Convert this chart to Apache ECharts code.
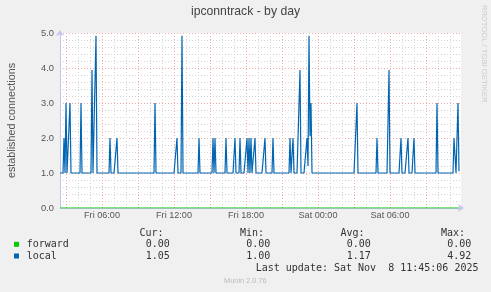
<!DOCTYPE html>
<html>
<head>
<meta charset="utf-8">
<title>ipconntrack - by day</title>
<script src="https://cdn.jsdelivr.net/npm/echarts@6.0.0/dist/echarts.min.js"></script>
<style>
  html, body { margin: 0; padding: 0; background: #f0f0f0; }
  #chart { width: 491px; height: 292px; }
</style>
</head>
<body>
<div id="chart"></div>
<script>
// 5 minute samples, first one at Fri 02:30 (hours counted from Fri 00:00)
var startHour = 2.5;
var stepHour = 5 / 60;

var local = [
  1,1,1,1,2,1,3,1,1,1,3,1,1,1,1,1,1,1,1,1,
  1,3,1,1,1,1,1,1,1,1,1,1,3.94,1,1,1,4.92,1,1,1,
  1,1,1,1,1,1,1,1,1,1,2,1,1,1,1,1,1,2,1,1,
  1,1,1,1,1,1,1,1,1,1,1,1,1,1,1,1,1,1,1,1,
  1,1,1,1,1,1,1,1,1,1,1,1,1,1,1,3,1,1,1,1,
  1,1,1,1,1,1,1,1,1,1,1,1,1,1,1,1,1,2,1,1,
  1,1,4.92,1,1,1,1,1,1,1,1,1,1,1,1,1,1,1,1,2,
  1,1,1,1,1,1,1,1,1,1,1,1,1,2,1,2,1,1,1,1,
  1,1,1,1,1,1,2,1,1,1,1,1,1,1,1,2,1,1,1,1,
  2,1,1,1,1,1,1,2,1,2,1,2,1,1,1,2,1,1,1,1,
  1,1,1,1,1,2,1,1,1,1,1,1,1,2,1,1,1,1,1,1,
  1,1,1,1,1,1,1,1,1,1,2,1,1,2,1,1,1,1,1,1,
  3.94,1,1,1,1,1,1,2,1.2,4.92,2.05,3,1,1,1,1,1,1,1,1,
  1,1,1,1,1,1,1,1,1,1,1,1,1,1,1,1,1,1,1,1,
  1,1,1,1,1,1,1,1,1,1,1,1,1,1,1,1,1,3,1,1,
  1,1,1,1,1,1,1,1,1,1,1,1,1,1,1,1,1,2,1,1,
  1,1,1,1,1,1,1,1,1,3.94,1,1,1,1,1,1,1,1,1,1,
  1,2,1,1,1,1,1,1,2,1,1,1,1,1,2,1,1,1,1,1,
  1,1,1,1,1,1,1,1,1,1,1,1,1,1,1,1,1,3,1,1,
  1,1,1,1,1,1,1,1,1,1,1,1,1,1,2,2,1,1,3,1.05
];

var forward = [
  0,0,0,0,0,0,0,0,0,0,0,0,0,0,0,0,0,0,0,0,0,0,0,0,0,0,0,0,0,0,0,0,0,0,0,0,0,0,0,0,
  0,0,0,0,0,0,0,0,0,0,0,0,0,0,0,0,0,0,0,0,0,0,0,0,0,0,0,0,0,0,0,0,0,0,0,0,0,0,0,0,
  0,0,0,0,0,0,0,0,0,0,0,0,0,0,0,0,0,0,0,0,0,0,0,0,0,0,0,0,0,0,0,0,0,0,0,0,0,0,0,0,
  0,0,0,0,0,0,0,0,0,0,0,0,0,0,0,0,0,0,0,0,0,0,0,0,0,0,0,0,0,0,0,0,0,0,0,0,0,0,0,0,
  0,0,0,0,0,0,0,0,0,0,0,0,0,0,0,0,0,0,0,0,0,0,0,0,0,0,0,0,0,0,0,0,0,0,0,0,0,0,0,0,
  0,0,0,0,0,0,0,0,0,0,0,0,0,0,0,0,0,0,0,0,0,0,0,0,0,0,0,0,0,0,0,0,0,0,0,0,0,0,0,0,
  0,0,0,0,0,0,0,0,0,0,0,0,0,0,0,0,0,0,0,0,0,0,0,0,0,0,0,0,0,0,0,0,0,0,0,0,0,0,0,0,
  0,0,0,0,0,0,0,0,0,0,0,0,0,0,0,0,0,0,0,0,0,0,0,0,0,0,0,0,0,0,0,0,0,0,0,0,0,0,0,0,
  0,0,0,0,0,0,0,0,0,0,0,0,0,0,0,0,0,0,0,0,0,0,0,0,0,0,0,0,0,0,0,0,0,0,0,0,0,0,0,0,
  0,0,0,0,0,0,0,0,0,0,0,0,0,0,0,0,0,0,0,0,0,0,0,0,0,0,0,0,0,0,0,0,0,0,0,0,0,0,0,0
];

var xLabelHours = [6, 12, 18, 24, 30];
var xLabels = ['Fri 06:00', 'Fri 12:00', 'Fri 18:00', 'Sat 00:00', 'Sat 06:00'];

var legendNames = ['forward', 'local'];
var curValues = ['0.00', '1.05'];
var minValues = ['0.00', '1.00'];
var avgValues = ['0.00', '1.17'];
var maxValues = ['0.00', '4.92'];
var lastUpdate = 'Last update: Sat Nov  8 11:45:06 2025';

var colors = ['#00cc00', '#0066b3'];

var xMin = startHour;
var xMax = startHour + 401 * stepHour;

var hourLines = [];
for (var h = 3; h <= 35; h++) hourLines.push(h);
var majorLines = [];
for (var h = 3; h <= 33; h += 3) majorLines.push(h);

function toPoints(arr) {
  return arr.map(function (v, i) { return [startHour + i * stepHour, v]; });
}

var sans = 'Liberation Sans';
var mono = 'DejaVu Sans Mono';
var minorGrid = { color: '#d4d4d4', type: [1, 2], width: 1 };
var majorGrid = { color: '#f4a8a8', type: [1, 2], width: 1 };

var myChart = echarts.init(document.getElementById('chart'));

// legend table at the bottom, munin style
var legendGraphics = [];
var rowY = [244.3, 256];
var colX = [145.7, 246.3, 346.7, 447.3];
var heads = ['Cur:', 'Min:', 'Avg:', 'Max:'];
heads.forEach(function (t, i) {
  legendGraphics.push({ type: 'text', x: colX[i] - 6.3, y: 233.3,
    style: { text: t, font: '10px ' + mono, fill: '#333', textVerticalAlign: 'middle' } });
});
legendNames.forEach(function (name, r) {
  legendGraphics.push({ type: 'rect', shape: { x: 14, y: rowY[r] - 2.5, width: 5, height: 5 },
    style: { fill: colors[r] } });
  legendGraphics.push({ type: 'text', x: 26.7, y: rowY[r],
    style: { text: name, font: '10px ' + mono, fill: '#333', textVerticalAlign: 'middle' } });
  [curValues, minValues, avgValues, maxValues].forEach(function (vals, c) {
    legendGraphics.push({ type: 'text', x: colX[c], y: rowY[r],
      style: { text: vals[r], font: '10px ' + mono, fill: '#333', textVerticalAlign: 'middle' } });
  });
});
legendGraphics.push({ type: 'text', x: 255.7, y: 268.7,
  style: { text: lastUpdate, font: '10px ' + mono, fill: '#333', textVerticalAlign: 'middle' } });
legendGraphics.push({ type: 'text', x: 224, y: 281.3,
  style: { text: 'Munin 2.0.76', font: '7.4px ' + sans, fill: '#bbbbbb', textVerticalAlign: 'middle' } });
legendGraphics.push({ type: 'text', x: 245.5, y: 11.7,
  style: { text: 'ipconntrack - by day', font: '12.2px ' + sans, fill: '#444', textAlign: 'center', textVerticalAlign: 'middle' } });
legendGraphics.push({ type: 'text', x: 484, y: 5, rotation: -Math.PI / 2,
  style: { text: 'RRDTOOL / TOBI OETIKER', font: '7.7px ' + sans, fill: '#cccccc', textAlign: 'left', textVerticalAlign: 'middle' } });

var option = {
  animation: false,
  backgroundColor: '#f0f0f0',
  grid: {
    left: 60, top: 33, width: 401, height: 175,
    show: true, backgroundColor: '#ffffff', borderWidth: 0,
    containLabel: false, outerBoundsMode: 'none'
  },
  xAxis: [
    {
      type: 'value', position: 'bottom', min: xMin, max: xMax,
      axisLine: { show: false },
      axisTick: { show: false, customValues: hourLines },
      axisLabel: { show: false, customValues: hourLines },
      splitLine: { show: true, lineStyle: minorGrid }
    },
    {
      type: 'value', position: 'bottom', min: xMin, max: xMax,
      axisLine: { show: false },
      axisTick: { show: false, customValues: majorLines },
      axisLabel: { show: false, customValues: majorLines },
      splitLine: { show: true, lineStyle: majorGrid }
    },
    {
      type: 'value', position: 'bottom', offset: 0, min: xMin, max: xMax,
      axisLine: { show: true, onZero: false, lineStyle: { color: '#c4c4f0' },
        symbol: ['none', 'arrow'], symbolSize: [6, 6], symbolOffset: [0, 3] },
      axisTick: { show: false, customValues: xLabelHours },
      axisLabel: {
        customValues: xLabelHours, margin: 3, color: '#555', fontSize: 9.1, fontFamily: sans,
        formatter: function (v) { return xLabels[xLabelHours.indexOf(Math.round(v))] || ''; }
      },
      splitLine: { show: false }
    }
  ],
  yAxis: {
    type: 'value', min: 0, max: 5, interval: 1,
    name: 'established connections', nameLocation: 'middle', nameGap: 42, nameRotate: 90,
    nameTextStyle: { color: '#555', fontSize: 10.8, fontFamily: sans },
    axisLine: { show: true, lineStyle: { color: '#c4c4f0' },
      symbol: ['none', 'arrow'], symbolSize: [6, 6], symbolOffset: [0, 3] },
    axisTick: { show: false },
    axisLabel: { color: '#555', fontSize: 9.3, fontFamily: sans, margin: 6,
      formatter: function (v) { return v.toFixed(1); } },
    splitLine: { show: true, lineStyle: majorGrid },
    minorTick: { show: false, splitNumber: 5 },
    minorSplitLine: { show: true, lineStyle: minorGrid }
  },
  series: [
    {
      name: 'forward', type: 'line', xAxisIndex: 2, showSymbol: false,
      data: toPoints(forward), color: colors[0],
      lineStyle: { width: 1.2, color: colors[0] }
    },
    {
      name: 'local', type: 'line', xAxisIndex: 2, showSymbol: false,
      data: toPoints(local), color: colors[1],
      lineStyle: { width: 1.2, color: colors[1] }
    }
  ],
  graphic: legendGraphics
};

myChart.setOption(option);
</script>
</body>
</html>
